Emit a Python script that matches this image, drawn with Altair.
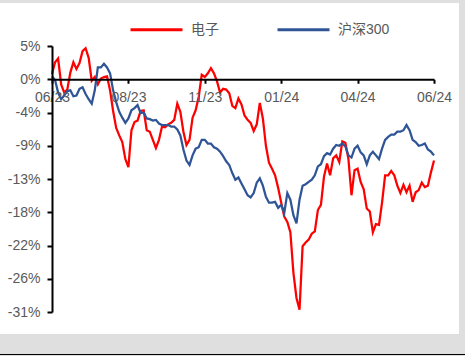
import json
import altair as alt
import pandas as pd

# Cumulative return (%) since the start of the window, one value per sampled trading day
ELECTRONICS = [
    1.2, 2.8, 3.3, -0.2, -1.3, -0.9, 1.4, 2.8, 1.9, 2.7,
    4.3, 4.7, 3.4, 0.3, 0.8, -0.2, 0.6, 0.8, 0.9, -1.0,
    -3.8, -6.1, -7.1, -8.0, -10.3, -11.4, -6.4, -5.3, -5.1, -3.8,
    -3.7, -6.4, -6.6, -7.7, -8.8, -7.7, -5.9, -6.0, -5.6, -5.4,
    -5.0, -2.8, -3.9, -6.6, -8.4, -7.7, -4.7, -3.7, -1.9, 1.1,
    0.8, 1.3, 2.0, 1.3, 0.2, -1.3, -0.8, -0.9, -1.4, -3.1,
    -3.4, -2.1, -2.9, -4.4, -5.0, -5.4, -6.5, -5.6, -2.7, -4.8,
    -8.5, -10.8, -11.6, -12.5, -14.2, -16.2, -18.1, -18.8, -20.2, -25.7,
    -29.1, -30.7, -22.1, -21.6, -21.2, -20.4, -20.1, -17.2, -16.5, -12.7,
    -10.9, -12.5, -10.2, -9.8, -10.7, -7.9, -8.1, -10.3, -15.2, -11.8,
    -11.6, -13.4, -14.4, -17.0, -17.4, -20.2, -19.1, -19.2, -16.2, -12.5,
    -12.5, -11.9, -12.5, -13.9, -14.9, -13.8, -14.8, -13.9, -16.1, -14.8,
    -14.5, -13.5, -14.1, -13.9, -12.1, -10.5,
]
CSI300 = [
    0.9, 0.4, -1.3, -2.2, -1.7, -1.1, -1.0, -1.8, -1.7, -0.8,
    -0.6, -1.5, -2.2, -2.8, -1.0, 2.1, 2.1, 2.6, 2.1, 1.3,
    -1.0, -2.6, -3.9, -4.7, -5.4, -4.8, -3.7, -3.4, -3.0, -4.1,
    -4.0, -4.8, -4.9, -5.1, -5.0, -5.5, -5.7, -5.7, -5.7, -5.9,
    -5.9, -6.3, -7.1, -9.0, -10.5, -11.1, -9.8, -8.9, -8.7, -7.7,
    -7.7, -8.2, -8.2, -8.7, -8.9, -9.3, -9.9, -10.6, -11.1, -12.2,
    -13.1, -12.8, -13.6, -14.4, -15.2, -15.5, -14.9, -13.5, -12.9, -13.9,
    -15.4, -16.2, -16.2, -16.1, -16.9, -16.5, -17.6, -14.9, -15.8, -17.9,
    -19.0, -15.8, -13.9, -13.7, -13.4, -13.1, -12.5, -11.3, -11.0, -9.9,
    -9.5, -9.7, -8.9, -8.4, -8.5, -8.2, -8.6, -9.8, -10.1, -8.9,
    -8.5, -9.4, -9.8, -11.0, -9.8, -9.3, -9.8, -10.3, -8.9, -7.7,
    -7.3, -7.0, -7.0, -6.6, -6.6, -6.4, -5.7, -6.4, -7.7, -8.0,
    -8.5, -8.4, -8.2, -9.0, -9.3, -9.8,
]
SERIES_NAMES = ["电子", "沪深300"]
SERIES_COLORS = ["#FF0000", "#2F5597"]

X_TICKS = [0, 25, 50, 75, 100, 125]
X_TICK_LABELS = ["06/23", "08/23", "11/23", "01/24", "04/24", "06/24"]
Y_TICKS = [5, 0.5, -4, -8.5, -13, -17.5, -22, -26.5, -31]
Y_TICK_LABELS = ["5%", "0%", "-4%", "-9%", "-13%", "-18%", "-22%", "-26%", "-31%"]
Y_MIN, Y_MAX = -31, 5
X_AXIS_AT = 0.5  # the category axis crosses at the "0%" tick

W, H = 382, 266
FONT = "Liberation Sans, Arial, Noto Sans CJK SC, sans-serif"
TEXT = "#595959"

n = len(ELECTRONICS)
red_df = pd.DataFrame({"day": range(n), "ret": ELECTRONICS, "series": SERIES_NAMES[0]})
blue_df = pd.DataFrame({"day": range(n), "ret": CSI300, "series": SERIES_NAMES[1]})

x_label_expr = f"{json.dumps(X_TICK_LABELS)}[indexof({json.dumps(X_TICKS)}, datum.value)]"
y_label_expr = f"{json.dumps(Y_TICK_LABELS)}[indexof({json.dumps(Y_TICKS)}, datum.value)]"

y_scale = alt.Scale(domain=[Y_MIN, Y_MAX], nice=False, zero=False)
x_scale = alt.Scale(domain=[0, n - 1], nice=False, zero=False)

# offset that lifts the bottom axis up to the crossing value
x_axis_offset = -(H - (Y_MAX - X_AXIS_AT) / (Y_MAX - Y_MIN) * H)

x_enc = alt.X(
    "day:Q", scale=x_scale, title=None,
    axis=alt.Axis(
        values=X_TICKS, labelExpr=x_label_expr, offset=x_axis_offset,
        domainColor="black", domainWidth=2, tickColor="black", tickWidth=2, tickSize=4,
        labelPadding=7, labelFontSize=14, labelColor=TEXT, labelFont=FONT,
        labelOverlap=False, labelFlush=False, labelBound=False, grid=False, zindex=2,
    ),
)
y_enc = alt.Y(
    "ret:Q", scale=y_scale, title=None,
    axis=alt.Axis(
        values=Y_TICKS, labelExpr=y_label_expr,
        domainColor="black", domainWidth=2, tickColor="black", tickWidth=2, tickSize=5,
        labelPadding=7, labelFontSize=14, labelColor=TEXT, labelFont=FONT,
        labelOverlap=False, labelFlush=False, grid=False, zindex=2,
    ),
)
color_enc = alt.Color(
    "series:N",
    scale=alt.Scale(domain=SERIES_NAMES, range=SERIES_COLORS),
    legend=alt.Legend(
        orient="none", legendX=77, legendY=-44, direction="horizontal", title=None,
        symbolType="stroke", symbolSize=2704, symbolStrokeWidth=3,
        labelFontSize=14, labelColor=TEXT, labelFont=FONT,
        labelOffset=7, columnPadding=52,
    ),
)

one_row = pd.DataFrame({"k": [0]})

# white card with a grey surround and a dark rule underneath
card = alt.Chart(one_row).mark_rect(color="white").encode(
    x=alt.value(-52), x2=alt.value(W + 25), y=alt.value(-43), y2=alt.value(H + 22)
)
bottom_rule = alt.Chart(one_row).mark_rule(color="black", strokeWidth=1).encode(
    x=alt.value(-52), x2=alt.value(W + 31), y=alt.value(H + 42.5)
)

red_line = alt.Chart(red_df).mark_line(strokeWidth=2.25).encode(
    x=x_enc, y=y_enc, color=color_enc
)
blue_line = alt.Chart(blue_df).mark_line(strokeWidth=2.25).encode(
    x=x_enc, y=y_enc, color=color_enc
)

chart = (
    alt.layer(card, bottom_rule, red_line, blue_line)
    .properties(
        width=W, height=H,
        autosize=alt.AutoSizeParams(type="none"),
        padding={"left": 52, "top": 46, "right": 31, "bottom": 44},
        background="#DFDFDF",
    )
    .configure_view(strokeWidth=0)
)

chart.save("out.html", embed_options={"renderer": "svg", "actions": False})
